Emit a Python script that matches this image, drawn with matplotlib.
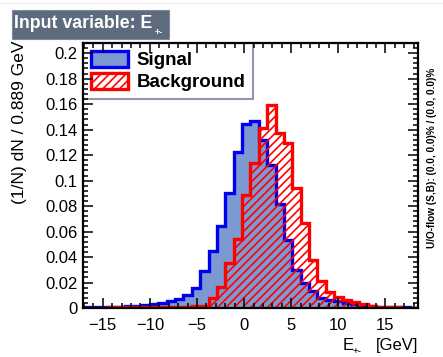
import numpy as np
import matplotlib
matplotlib.use("Agg")
import matplotlib.pyplot as plt
from matplotlib.patches import Patch, Rectangle
from matplotlib.lines import Line2D
from matplotlib.ticker import MultipleLocator, FuncFormatter

plt.rcParams['font.family'] = ['Liberation Sans', 'DejaVu Sans']
plt.rcParams['hatch.color'] = '#ff0000'
plt.rcParams['hatch.linewidth'] = 1.2

# histogram range and binning (40 bins of 0.889 GeV)
x_min = -17.1
bin_width = 0.889
n_bins = 40

# (1/N) dN per bin
signal = [0.0005, 0.0005, 0.0006, 0.0008, 0.0010, 0.0012, 0.0016, 0.0022, 0.0030, 0.0042,
          0.0055, 0.0068, 0.0100, 0.0160, 0.0288, 0.0450, 0.0640, 0.0900, 0.1226, 0.1448,
          0.1467, 0.1315, 0.1120, 0.0820, 0.0535, 0.0295, 0.0198, 0.0130, 0.0082, 0.0066,
          0.0052, 0.0040, 0.0030, 0.0020, 0.0014, 0.0010, 0.0007, 0.0005, 0.0004, 0.0003]
background = [0.0003, 0.0003, 0.0003, 0.0004, 0.0004, 0.0004, 0.0005, 0.0005, 0.0006, 0.0006,
              0.0007, 0.0008, 0.0010, 0.0012, 0.0016, 0.0080, 0.0165, 0.0355, 0.0545, 0.0886,
              0.1135, 0.1409, 0.1590, 0.1370, 0.1292, 0.0939, 0.0664, 0.0380, 0.0215, 0.0128,
              0.0089, 0.0066, 0.0048, 0.0030, 0.0015, 0.0008, 0.0005, 0.0004, 0.0003, 0.0003]

edges = x_min + bin_width * np.arange(n_bins + 1)

W, H = 443, 357
fig = plt.figure(figsize=(W / 100, H / 100), dpi=100)
ax = fig.add_axes([83 / W, 1 - 308 / H, 335 / W, 265 / H])

# signal: filled + outline
ax.stairs(signal, edges, fill=True, facecolor='#7d99d1', edgecolor='none', zorder=1)
ax.stairs(signal, edges, color='#0000ee', linewidth=2.4, zorder=1.2)
# background: hatched + outline
ax.stairs(background, edges, fill=True, facecolor='none', edgecolor='#ff0000',
          hatch='////', linewidth=0, zorder=1.3)
ax.stairs(background, edges, color='#ff0000', linewidth=2.4, zorder=1.4)

ax.set_xlim(edges[0], edges[-1])
ax.set_ylim(0, 0.208)

ax.xaxis.set_major_locator(MultipleLocator(5))
ax.xaxis.set_minor_locator(MultipleLocator(1))
ax.yaxis.set_major_locator(MultipleLocator(0.02))
ax.yaxis.set_minor_locator(MultipleLocator(0.004))
ax.yaxis.set_major_formatter(FuncFormatter(lambda v, p: '%g' % round(v, 4)))
ax.xaxis.set_major_formatter(FuncFormatter(lambda v, p: ('%g' % v).replace('-', '\u2212')))

ax.tick_params(which='both', direction='in', top=True, right=True, width=1.1,
               labelsize=12, color='black')
ax.tick_params(which='major', length=7)
ax.tick_params(which='minor', length=3.5)
ax.tick_params(axis='x', pad=7)
ax.tick_params(axis='y', pad=4)
for s in ax.spines.values():
    s.set_linewidth(1.6)
ax.set_axisbelow(False)

# legend
handles = [Patch(facecolor='#7d99d1', edgecolor='#0000ee', linewidth=2.4),
           Patch(facecolor='none', edgecolor='#ff0000', hatch='////', linewidth=2.4)]
leg = ax.legend(handles, ['Signal', 'Background'], loc='upper left',
                bbox_to_anchor=(0, 1), borderaxespad=0, fancybox=False,
                prop={'weight': 'bold', 'size': 13.5}, handlelength=2.0,
                handleheight=0.95, handletextpad=0.45, labelspacing=0.2,
                borderpad=0.4, framealpha=1)
leg.get_frame().set_edgecolor('#8f9aaa')
leg.get_frame().set_linewidth(1.5)
leg.set_zorder(2)

# title box
fig.patches.append(Rectangle((12 / W, 1 - 39 / H), 157 / W, 29 / H,
                             transform=fig.transFigure, facecolor='#5d6b7d',
                             edgecolor='#7d8b9d', linewidth=0.8))
fig.text(14 / W, 1 - 28 / H, 'Input variable: E', color='white', fontsize=12.8,
         fontweight='bold', va='baseline', ha='left')
fig.text(155 / W, 1 - 35 / H, '+-', color='white', fontsize=6.5,
         fontweight='bold', va='baseline', ha='left')

# axis titles
fig.text(20 / W, 1 - 40 / H, '(1/N) dN / 0.889 GeV', rotation=90, fontsize=12.5,
         ha='center', va='top')
fig.text(418 / W, 1 - 350 / H, '[GeV]', fontsize=12, ha='right', va='baseline')
fig.text(343 / W, 1 - 350 / H, 'E', fontsize=12, ha='left', va='baseline')
fig.text(353 / W, 1 - 354 / H, '+-', fontsize=7, ha='left', va='baseline')

# under/overflow note
fig.text(432 / W, 1 - 158 / H, 'U/O-flow (S,B): (0.0, 0.0)% / (0.0, 0.0)%',
         rotation=90, fontsize=7.2, fontweight='bold', ha='center', va='center')

# faint canvas border line at the top
fig.add_artist(Line2D([0, 1], [1 - 3 / H, 1 - 3 / H], transform=fig.transFigure,
                      color='#eeeeee', linewidth=0.8))

fig.savefig('out.png', dpi=100)
